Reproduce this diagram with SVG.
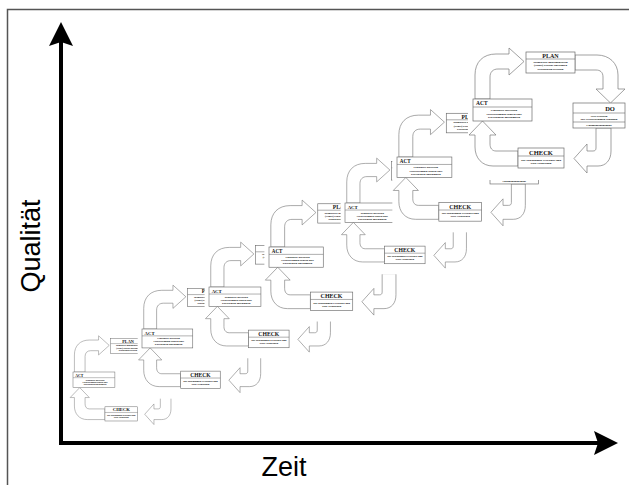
<svg xmlns="http://www.w3.org/2000/svg" xmlns:xlink="http://www.w3.org/1999/xlink" width="629" height="485" viewBox="0 0 629 485">
  <style>
    .bg { fill: #ffffff; }
    .arr { fill: #ffffff; stroke: #7a7a7a; stroke-width: 0.7; stroke-linejoin: round; }
    .box { fill: #ffffff; stroke: #6a6a6a; stroke-width: 0.7; }
    .rule { stroke: #6a6a6a; stroke-width: 0.6; }
    .ttl { font-family: "Liberation Serif", "Times New Roman", serif; font-weight: bold; fill: #111111; }
    .txt { font-family: "Liberation Serif", "Times New Roman", serif; font-size: 2.9px; font-weight: bold; fill: #000000; text-anchor: middle; }
    .axis { fill: none; stroke: #000000; stroke-width: 4; stroke-linejoin: miter; }
    .label { font-family: "Liberation Sans", Arial, sans-serif; font-size: 27px; fill: #000000; text-anchor: middle; }
  </style>
  <defs>
    <marker id="axis-head" viewBox="0 0 24 24" refX="4" refY="12" markerWidth="24" markerHeight="24" markerUnits="userSpaceOnUse" orient="auto-start-reverse">
      <path d="M0,0 L24,12 L0,24 L4,12 Z" fill="#000000"/>
    </marker>

    <!-- One PDCA cycle; origin is the top-left corner of the ACT box -->
    <g id="pdca">
      <rect class="bg" x="-5" y="-52" width="159" height="133"/>
      <g class="connectors">
        <!-- ACT -> PLAN -->
        <path class="arr" d="M2,0 V-24 C2,-37 10,-45 23,-45 H36 V-51 L51,-37.5 L36,-24 V-30 H25 C20,-30 17,-27 17,-22 V0 Z"/>
        <!-- PLAN -> DO -->
        <path class="arr" d="M102,-44 H124 C136,-44 145,-36 145,-24 V-10 H152 L137.5,4 L123,-10 H130 V-22 C130,-27 127,-29 123,-29 H102 Z"/>
        <!-- DO -> CHECK -->
        <path class="arr" d="M123,29 H138 V52 C138,61 133,67 125,67 H114 V74 L101,59.5 L114,45 V52 H120 C122,52 123,51 123,49 Z"/>
        <!-- CHECK -> ACT -->
        <path class="arr" d="M45,52 V67 H20 C9,67 2,59 2,48 V36 H-4 L9.5,22 L23,36 H17 V45 C17,49 19,52 23,52 Z"/>
      </g>
      <g class="node-act">
        <rect class="box" x="0" y="0" width="59" height="22"/>
        <line class="rule" x1="0" y1="8" x2="59" y2="8"/>
        <text class="ttl" x="3" y="6.4" font-size="5.5">ACT</text>
        <text class="txt" x="31" y="12.2">Ergebnisse darstellen</text>
        <text class="txt" x="31" y="15.6">Verbesserungen sichern oder</text>
        <text class="txt" x="31" y="19">Korrekturen durchführen</text>
      </g>
      <g class="node-plan">
        <rect class="box" x="53" y="-47" width="49" height="21"/>
        <line class="rule" x1="53" y1="-40" x2="102" y2="-40"/>
        <text class="ttl" x="77.5" y="-41.4" font-size="6" text-anchor="middle">PLAN</text>
        <text class="txt" x="77.5" y="-36.3">Teamarbeit implementieren</text>
        <text class="txt" x="77.5" y="-32.8">(Neues) Projekt auswählen</text>
        <text class="txt" x="77.5" y="-29.3">Projektplan erstellen</text>
      </g>
      <g class="node-do">
        <rect class="box" x="100" y="4" width="52" height="25"/>
        <line class="rule" x1="100" y1="14" x2="152" y2="14"/>
        <line class="rule" x1="100" y1="23" x2="152" y2="23"/>
        <text class="ttl" x="137" y="12" font-size="6.5" text-anchor="middle">DO</text>
        <text class="txt" x="126" y="17.6">SOP erstellen</text>
        <text class="txt" x="126" y="21">Mit Verbesserungen beginnen</text>
        <text class="txt" x="126" y="27">Changemanagement</text>
      </g>
      <g class="node-check">
        <rect class="box" x="45" y="49" width="46" height="20"/>
        <line class="rule" x1="45" y1="57" x2="91" y2="57"/>
        <text class="ttl" x="68" y="55.6" font-size="6.5" text-anchor="middle">CHECK</text>
        <text class="txt" x="68" y="61.5">Mit Maßnahmen Erreichtes und</text>
        <text class="txt" x="68" y="65">Ziele vergleichen</text>
      </g>
    </g>
  </defs>

  <!-- frame -->
  <path d="M7.5,485 V9.5 H629" fill="none" stroke="#555555" stroke-width="1.5"/>

  <!-- improvement staircase: each cycle sits on top of the one before -->
  <g id="cycle-1" transform="translate(73 372) scale(0.71)"><use href="#pdca" xlink:href="#pdca"/></g>
  <g id="cycle-2" transform="translate(142 329) scale(0.86)"><use href="#pdca" xlink:href="#pdca"/></g>
  <g id="cycle-3" transform="translate(209 287) scale(0.88)"><use href="#pdca" xlink:href="#pdca"/></g>
  <g id="cycle-4" transform="translate(269 247) scale(0.92)"><use href="#pdca" xlink:href="#pdca"/></g>
  <g id="cycle-5" transform="translate(345 203) scale(0.88)"><use href="#pdca" xlink:href="#pdca"/></g>
  <g id="cycle-6" transform="translate(397 157) scale(0.93)"><use href="#pdca" xlink:href="#pdca"/></g>
  <g id="cycle-7" transform="translate(473 99)"><use href="#pdca" xlink:href="#pdca"/></g>

  <!-- axes -->
  <g id="axes">
    <path class="axis" d="M61,42 V443 H598" marker-start="url(#axis-head)" marker-end="url(#axis-head)"/>
    <text class="label" x="284" y="476">Zeit</text>
    <text class="label" transform="translate(40 246) rotate(-90)">Qualität</text>
  </g>
</svg>
